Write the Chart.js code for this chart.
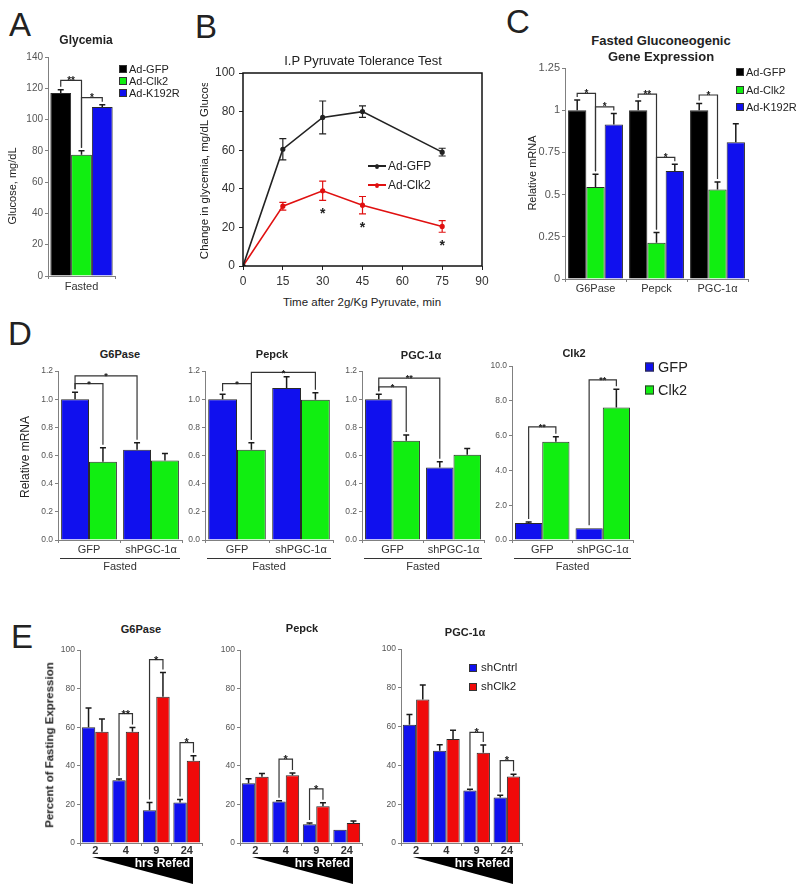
<!DOCTYPE html>
<html>
<head>
<meta charset="utf-8">
<script src="https://cdn.jsdelivr.net/npm/chart.js@4.4.1/dist/chart.umd.min.js"></script>
<style>
  body { margin: 0; background: #fff; }
  #fig { position: relative; width: 800px; height: 893px; overflow: hidden;
         font-family: "Liberation Sans", Arial, sans-serif; color: #222; }
  #fig canvas { position: absolute; }
  .t { position: absolute; white-space: nowrap; line-height: 1; transform: translate(-50%, -50%); }
  .l { position: absolute; white-space: nowrap; line-height: 1; transform: translateY(-50%); }
  .r { transform: translate(-50%, -50%) rotate(-90deg); }
  .b { font-weight: bold; }
  .clip { position: absolute; overflow: hidden; }
  .sq { position: absolute; width: 8px; height: 8px; border: 1px solid #333; box-sizing: border-box; transform: translateY(-50%); }
  .ln { position: absolute; width: 18px; height: 2px; transform: translateY(-50%); }
  .ln::after { content: ""; position: absolute; left: 7px; top: -1.5px; width: 4px; height: 5px; border-radius: 50%; background: inherit; }
</style>
</head>
<body>
<div id="fig">
  <canvas id="chartA"></canvas>
  <canvas id="chartB"></canvas>
  <canvas id="chartC"></canvas>
  <canvas id="chartD1"></canvas>
  <canvas id="chartD2"></canvas>
  <canvas id="chartD3"></canvas>
  <canvas id="chartD4"></canvas>
  <canvas id="chartE1"></canvas>
  <canvas id="chartE2"></canvas>
  <canvas id="chartE3"></canvas>

  <!-- panel letters -->
  <div class="t" style="left:20px;top:24px;font-size:33px">A</div>
  <div class="t" style="left:206px;top:26px;font-size:33px">B</div>
  <div class="t" style="left:518px;top:21px;font-size:33px">C</div>
  <div class="t" style="left:20px;top:333px;font-size:33px">D</div>
  <div class="t" style="left:22px;top:636px;font-size:33px">E</div>

  <!-- A -->
  <div class="t b" style="left:86px;top:40px;font-size:12px">Glycemia</div>
  <div class="t r" style="left:12px;top:186px;font-size:11px">Glucose, mg/dL</div>
  <div class="sq" style="left:119px;top:69px;background:#000"></div>
  <div class="l" style="left:129px;top:69px;font-size:11px">Ad-GFP</div>
  <div class="sq" style="left:119px;top:81px;background:#11ee11"></div>
  <div class="l" style="left:129px;top:81px;font-size:11px">Ad-Clk2</div>
  <div class="sq" style="left:119px;top:93px;background:#1010ee"></div>
  <div class="l" style="left:129px;top:93px;font-size:11px">Ad-K192R</div>

  <!-- B -->
  <div class="t" style="left:363px;top:60px;font-size:13px">I.P Pyruvate Tolerance Test</div>
  <div class="clip" style="left:190px;top:83px;width:30px;height:185px">
    <div class="t r" style="left:15px;top:84px;font-size:11.5px">Change in glycemia, mg/dL Glucose</div>
  </div>
  <div class="t" style="left:362px;top:303px;font-size:11.5px">Time after 2g/Kg Pyruvate, min</div>
  <div class="ln" style="left:368px;top:166px;background:#222"></div>
  <div class="l" style="left:388px;top:166px;font-size:12px">Ad-GFP</div>
  <div class="ln" style="left:368px;top:185px;background:#e01010"></div>
  <div class="l" style="left:388px;top:185px;font-size:12px">Ad-Clk2</div>

  <!-- C -->
  <div class="t b" style="left:661px;top:40px;font-size:13px">Fasted Gluconeogenic</div>
  <div class="t b" style="left:661px;top:56px;font-size:13px">Gene Expression</div>
  <div class="t r" style="left:532px;top:173px;font-size:11px">Relative mRNA</div>
  <div class="sq" style="left:736px;top:72px;background:#000"></div>
  <div class="l" style="left:746px;top:72px;font-size:11px">Ad-GFP</div>
  <div class="sq" style="left:736px;top:90px;background:#11ee11"></div>
  <div class="l" style="left:746px;top:90px;font-size:11px">Ad-Clk2</div>
  <div class="sq" style="left:736px;top:107px;background:#1010ee"></div>
  <div class="l" style="left:746px;top:107px;font-size:11px">Ad-K192R</div>

  <!-- D -->
  <div class="t b" style="left:120px;top:354px;font-size:11px">G6Pase</div>
  <div class="t b" style="left:272px;top:354px;font-size:11px">Pepck</div>
  <div class="t b" style="left:421px;top:355px;font-size:11px">PGC-1α</div>
  <div class="t b" style="left:574px;top:353px;font-size:11px">Clk2</div>
  <div class="t r" style="left:25px;top:457px;font-size:12px">Relative mRNA</div>
  <div class="sq" style="left:645px;top:367px;width:9px;height:9px;background:#1010ee"></div>
  <div class="l" style="left:658px;top:367px;font-size:14.5px">GFP</div>
  <div class="sq" style="left:645px;top:390px;width:9px;height:9px;background:#11ee11"></div>
  <div class="l" style="left:658px;top:390px;font-size:14.5px">Clk2</div>

  <!-- E -->
  <div class="t b" style="left:141px;top:629px;font-size:11px">G6Pase</div>
  <div class="t b" style="left:302px;top:628px;font-size:11px">Pepck</div>
  <div class="t b" style="left:465px;top:632px;font-size:11px">PGC-1α</div>
  <div class="t r b" style="left:50px;top:745px;font-size:11.5px">Percent of Fasting Expression</div>
  <div class="sq" style="left:469px;top:668px;background:#1010ee"></div>
  <div class="l" style="left:481px;top:668px;font-size:11.5px">shCntrl</div>
  <div class="sq" style="left:469px;top:687px;background:#f00a0a"></div>
  <div class="l" style="left:481px;top:687px;font-size:11.5px">shClk2</div>
</div>

<script>
// colours
const black = '#000000';
const green = '#11ee11';
const blue = '#1010ee';
const red = '#f00a0a';

// A - glycemia
const aGroups = ['Ad-GFP', 'Ad-Clk2', 'Ad-K192R'];
const aGlucose = [117, 77.5, 108];
const aGlucoseErr = [2, 2.5, 1.5];
const aTicks = [0, 20, 40, 60, 80, 100, 120, 140];
const aBrackets = [
    { a: [0, 0], b: [1, 0], y: 125, text: '**' },
    { a: [1, 0], b: [2, 0], y: 114, text: '*' }
];

// B - pyruvate tolerance test
const bTimes = [0, 15, 30, 45, 75];
const bGfp = [0, 60.5, 77, 80, 59];
const bGfpErr = [0, 5.5, 8.5, 3, 2];
const bClk2 = [0, 31, 39, 31.5, 20.5];
const bClk2Err = [0, 2, 5, 4.5, 3];
const bXTicks = [0, 15, 30, 45, 60, 75, 90];
const bYTicks = [0, 20, 40, 60, 80, 100];
const bStarTimes = [30, 45, 75];
const bStarLevels = [29, 22, 12.5];

// C - fasted gluconeogenic gene expression
const cGenes = ['G6Pase', 'Pepck', 'PGC-1α'];
const cGfp = [1, 1, 1];
const cGfpErr = [0.06, 0.055, 0.04];
const cClk2 = [0.545, 0.215, 0.53];
const cClk2Err = [0.075, 0.06, 0.045];
const cK192R = [0.915, 0.64, 0.81];
const cK192RErr = [0.065, 0.04, 0.11];
const cTicks = [0, 0.25, 0.5, 0.75, 1, 1.25];
const cBrackets = [
    { a: [0, 0], b: [1, 0], y: 1.10, text: '*' },
    { a: [1, 0], b: [2, 0], y: 1.02, text: '*' },
    { a: [0, 1], b: [1, 1], y: 1.095, text: '**' },
    { a: [1, 1], b: [2, 1], y: 0.72, text: '*' },
    { a: [0, 2], b: [1, 2], y: 1.09, text: '*' }
];

// D - shPGC-1a knockdown
const dGroups = ['GFP', 'shPGC-1α'];
const dTicks = [0, 0.2, 0.4, 0.6, 0.8, 1.0, 1.2];
const dClk2Ticks = [0, 2, 4, 6, 8, 10];
const dG6paseGfp = [1.0, 0.64];
const dG6paseGfpErr = [0.05, 0.05];
const dG6paseClk2 = [0.555, 0.565];
const dG6paseClk2Err = [0.1, 0.05];
const dPepckGfp = [1.0, 1.08];
const dPepckGfpErr = [0.035, 0.08];
const dPepckClk2 = [0.64, 0.995];
const dPepckClk2Err = [0.05, 0.05];
const dPgcGfp = [1.0, 0.515];
const dPgcGfpErr = [0.035, 0.04];
const dPgcClk2 = [0.705, 0.605];
const dPgcClk2Err = [0.04, 0.045];
const dClk2Gfp = [0.97, 0.67];
const dClk2GfpErr = [0.07, 0];
const dClk2Clk2 = [5.65, 7.62];
const dClk2Clk2Err = [0.28, 1.05];
const dG6paseBrackets = [
    { a: [0, 0], b: [1, 0], y: 1.11, text: '*' },
    { a: [0, 0], b: [0, 1], y: 1.165, text: '*' }
];
const dPepckBrackets = [
    { a: [0, 0], b: [1, 0], y: 1.11, text: '*' },
    { a: [1, 0], b: [1, 1], y: 1.19, text: '*' }
];
const dPgcBrackets = [
    { a: [0, 0], b: [1, 0], y: 1.087, text: '*' },
    { a: [0, 0], b: [0, 1], y: 1.15, text: '**' }
];
const dClk2Brackets = [
    { a: [0, 0], b: [1, 0], y: 6.5, text: '**' },
    { a: [0, 1], b: [1, 1], y: 9.2, text: '**' }
];

// E - refeeding time course
const eHours = ['2', '4', '9', '24'];
const eTicks = [0, 20, 40, 60, 80, 100];
const eG6paseCntrl = [60, 32.5, 17, 21];
const eG6paseCntrlErr = [10, 0.6, 4, 1.6];
const eG6paseClk2 = [57.6, 57.6, 75.8, 42.6];
const eG6paseClk2Err = [6.6, 2.3, 12.6, 2.6];
const ePepckCntrl = [31, 21.5, 9.7, 6.9];
const ePepckCntrlErr = [2.3, 0.4, 0.7, 0];
const ePepckClk2 = [34.3, 35.1, 19, 10.4];
const ePepckClk2Err = [1.7, 1.2, 1.8, 1];
const ePgcCntrl = [61, 47.5, 27, 23.5];
const ePgcCntrlErr = [5.2, 3.1, 0.7, 1.1];
const ePgcClk2 = [74, 53.6, 46.5, 34.3];
const ePgcClk2Err = [7.5, 4.5, 4, 1.2];
const eG6paseBrackets = [
    { a: [0, 1], b: [1, 1], y: 67, text: '**' },
    { a: [0, 2], b: [1, 2], y: 95, text: '*' },
    { a: [0, 3], b: [1, 3], y: 52, text: '*' }
];
const ePepckBrackets = [
    { a: [0, 1], b: [1, 1], y: 43.5, text: '*' },
    { a: [0, 2], b: [1, 2], y: 28, text: '*' }
];
const ePgcBrackets = [
    { a: [0, 2], b: [1, 2], y: 57, text: '*' },
    { a: [0, 3], b: [1, 3], y: 42.5, text: '*' }
];

const FONT = '"Liberation Sans", Arial, sans-serif';
Chart.defaults.font.family = FONT;
Chart.defaults.animation = false;

// error bars: up only for bars, both ways for lines
const errorBars = {
    id: 'errorBars',
    afterDatasetsDraw(chart) {
        const ctx = chart.ctx;
        const ys = chart.scales.y;
        const both = chart.config.type === 'line';
        chart.data.datasets.forEach((ds, i) => {
            if (!ds.errors) return;
            const meta = chart.getDatasetMeta(i);
            ctx.save();
            ctx.strokeStyle = ds.errorColor || '#1a1a1a';
            ctx.lineWidth = ds.errorWidth || 1.5;
            meta.data.forEach((el, j) => {
                const err = ds.errors[j];
                if (!err) return;
                const raw = ds.data[j];
                const v = typeof raw === 'object' ? raw.y : raw;
                const top = ys.getPixelForValue(v + err);
                const bot = both ? ys.getPixelForValue(v - err) : el.y;
                const cap = ds.errorCap || 3;
                ctx.beginPath();
                ctx.moveTo(el.x, bot);
                ctx.lineTo(el.x, top);
                ctx.moveTo(el.x - cap, top);
                ctx.lineTo(el.x + cap, top);
                if (both) {
                    ctx.moveTo(el.x - cap, bot);
                    ctx.lineTo(el.x + cap, bot);
                }
                ctx.stroke();
            });
            ctx.restore();
        });
    }
};

// significance brackets between two bars
const brackets = {
    id: 'brackets',
    afterDatasetsDraw(chart, args, opts) {
        const items = opts.items || [];
        if (!items.length) return;
        const ctx = chart.ctx;
        const ys = chart.scales.y;
        const foot = ([d, i]) => {
            const ds = chart.data.datasets[d];
            const el = chart.getDatasetMeta(d).data[i];
            const top = ds.data[i] + (ds.errors ? ds.errors[i] : 0);
            return { x: el.x, y: ys.getPixelForValue(top) - 3 };
        };
        const size = opts.size || 10;
        ctx.save();
        ctx.strokeStyle = '#333';
        ctx.lineWidth = 1.2;
        ctx.fillStyle = '#222';
        ctx.font = 'bold ' + size + 'px ' + FONT;
        ctx.textAlign = 'center';
        ctx.textBaseline = 'alphabetic';
        items.forEach(b => {
            const p = foot(b.a);
            const q = foot(b.b);
            const top = ys.getPixelForValue(b.y);
            ctx.beginPath();
            ctx.moveTo(p.x, p.y);
            ctx.lineTo(p.x, top);
            ctx.lineTo(q.x, top);
            ctx.lineTo(q.x, q.y);
            ctx.stroke();
            ctx.fillText(b.text, (p.x + q.x) / 2, top + size * 0.35);
        });
        ctx.restore();
    }
};

Chart.register(errorBars, brackets);

function place(id, area, pad) {
    const cv = document.getElementById(id);
    cv.width = area.r - area.l + pad.l + pad.r;
    cv.height = area.b - area.t + pad.t + pad.b;
    cv.style.left = (area.l - pad.l) + 'px';
    cv.style.top = (area.t - pad.t) + 'px';
    return cv;
}

function yAxis(ticks, pad, size, fmt) {
    return {
        min: ticks[0],
        max: ticks[ticks.length - 1],
        afterBuildTicks: s => { s.ticks = ticks.map(v => ({ value: v })); },
        afterFit: s => { s.width = pad.l; },
        border: { color: '#808080', width: 1 },
        grid: { drawOnChartArea: false, tickLength: 3, color: '#808080' },
        ticks: { font: { size: size }, color: '#555', padding: 2, callback: fmt || (v => String(v)) }
    };
}

function xAxis(pad, font, padding) {
    return {
        afterFit: s => { s.height = pad.b; },
        border: { color: '#808080', width: 1 },
        grid: { drawOnChartArea: false, tickLength: 3, color: '#808080' },
        ticks: { font: font, color: '#333', padding: padding, autoSkip: false, maxRotation: 0 }
    };
}

function bars(label, data, errors, color, catPct) {
    return {
        label: label,
        data: data,
        errors: errors,
        backgroundColor: color,
        borderColor: '#2a2a2a',
        borderWidth: 1,
        categoryPercentage: catPct,
        barPercentage: 1
    };
}

function barChart(id, area, pad, labels, datasets, yOpts, xFont, xPad, bracketItems, bracketSize, extra) {
    place(id, area, pad);
    return new Chart(document.getElementById(id), {
        type: 'bar',
        data: { labels: labels, datasets: datasets },
        options: {
            responsive: false,
            devicePixelRatio: 1,
            layout: { padding: { top: pad.t, right: pad.r, left: 0, bottom: 0 } },
            scales: { x: xAxis(pad, xFont, xPad), y: yOpts },
            plugins: {
                legend: { display: false },
                tooltip: { enabled: false },
                brackets: { items: bracketItems, size: bracketSize }
            }
        },
        plugins: extra ? [extra] : []
    });
}

// "Fasted" underline under D panels
const fastedLabel = {
    id: 'fastedLabel',
    afterDraw(chart) {
        const { ctx, chartArea: a } = chart;
        ctx.save();
        ctx.strokeStyle = '#333';
        ctx.lineWidth = 1;
        ctx.beginPath();
        ctx.moveTo(a.left + 2, a.bottom + 18.5);
        ctx.lineTo(a.right - 2, a.bottom + 18.5);
        ctx.stroke();
        ctx.fillStyle = '#333';
        ctx.font = '11px ' + FONT;
        ctx.textAlign = 'center';
        ctx.textBaseline = 'middle';
        ctx.fillText('Fasted', (a.left + a.right) / 2, a.bottom + 27);
        ctx.restore();
    }
};

// black wedge with "hrs Refed" under E panels
const refedWedge = {
    id: 'refedWedge',
    afterDraw(chart) {
        const { ctx, chartArea: a } = chart;
        ctx.save();
        ctx.fillStyle = '#000';
        ctx.beginPath();
        ctx.moveTo(a.left + 12, a.bottom + 14);
        ctx.lineTo(a.right - 9, a.bottom + 14);
        ctx.lineTo(a.right - 9, a.bottom + 41);
        ctx.closePath();
        ctx.fill();
        ctx.fillStyle = '#fff';
        ctx.font = 'bold 12px ' + FONT;
        ctx.textAlign = 'right';
        ctx.textBaseline = 'middle';
        ctx.fillText('hrs Refed', a.right - 12, a.bottom + 21);
        ctx.restore();
    }
};

// ---- A ----
const aColors = [black, green, blue];
barChart('chartA', { l: 48, t: 57, r: 115, b: 276 }, { l: 40, t: 12, r: 4, b: 20 },
    ['Fasted'],
    aGroups.map((g, k) => bars(g, [aGlucose[k]], [aGlucoseErr[k]], aColors[k], 0.93)),
    yAxis(aTicks, { l: 40 }, 10),
    { size: 11 }, 1, aBrackets, 10);

// ---- B ----
const frame = {
    id: 'frame',
    afterDraw(chart) {
        const { ctx, chartArea: a } = chart;
        ctx.save();
        ctx.strokeStyle = '#111';
        ctx.lineWidth = 1.5;
        ctx.strokeRect(a.left, a.top, a.right - a.left, a.bottom - a.top);
        ctx.restore();
    }
};
const starMarks = {
    id: 'starMarks',
    afterDraw(chart) {
        const { ctx, scales } = chart;
        ctx.save();
        ctx.fillStyle = '#222';
        ctx.font = 'bold 14px ' + FONT;
        ctx.textAlign = 'center';
        ctx.textBaseline = 'alphabetic';
        bStarTimes.forEach((t, k) => {
            ctx.fillText('*', scales.x.getPixelForValue(t), scales.y.getPixelForValue(bStarLevels[k]) + 8);
        });
        ctx.restore();
    }
};
const bPad = { l: 40, t: 12, r: 14, b: 28 };
place('chartB', { l: 243, t: 73, r: 482, b: 266 }, bPad);
new Chart(document.getElementById('chartB'), {
    type: 'line',
    data: {
        datasets: [
            {
                label: 'Ad-GFP',
                data: bTimes.map((t, k) => ({ x: t, y: bGfp[k] })),
                errors: bGfpErr, errorColor: '#222', errorWidth: 1.2, errorCap: 3.5,
                borderColor: '#222', backgroundColor: '#222',
                borderWidth: 1.6, pointRadius: 1.8, tension: 0
            },
            {
                label: 'Ad-Clk2',
                data: bTimes.map((t, k) => ({ x: t, y: bClk2[k] })),
                errors: bClk2Err, errorColor: '#e01010', errorWidth: 1.2, errorCap: 3.5,
                borderColor: '#e01010', backgroundColor: '#e01010',
                borderWidth: 1.6, pointRadius: 1.8, tension: 0
            }
        ]
    },
    options: {
        responsive: false,
        devicePixelRatio: 1,
        layout: { padding: { top: bPad.t, right: bPad.r, left: 0, bottom: 0 } },
        scales: {
            x: {
                type: 'linear', min: 0, max: 90,
                afterBuildTicks: s => { s.ticks = bXTicks.map(v => ({ value: v })); },
                afterFit: s => { s.height = bPad.b; },
                border: { display: false },
                grid: { drawOnChartArea: false, tickLength: 4, color: '#222' },
                ticks: { font: { size: 12 }, color: '#333', padding: 4 }
            },
            y: {
                min: 0, max: 100,
                afterBuildTicks: s => { s.ticks = bYTicks.map(v => ({ value: v })); },
                afterFit: s => { s.width = bPad.l; },
                border: { display: false },
                grid: { drawOnChartArea: false, tickLength: 4, color: '#222' },
                ticks: { font: { size: 12 }, color: '#333', padding: 4 }
            }
        },
        plugins: { legend: { display: false }, tooltip: { enabled: false } }
    },
    plugins: [frame, starMarks]
});

// ---- C ----
barChart('chartC', { l: 565, t: 68, r: 748, b: 279 }, { l: 40, t: 12, r: 4, b: 20 },
    cGenes,
    [
        bars('Ad-GFP', cGfp, cGfpErr, black, 0.9),
        bars('Ad-Clk2', cClk2, cClk2Err, green, 0.9),
        bars('Ad-K192R', cK192R, cK192RErr, blue, 0.9)
    ],
    yAxis(cTicks, { l: 40 }, 11),
    { size: 11 }, 0, cBrackets, 10);

// ---- D ----
const dPad = { l: 40, t: 10, r: 4, b: 36 };
const fmt1 = v => v.toFixed(1);
barChart('chartD1', { l: 58, t: 371, r: 182, b: 540 }, dPad, dGroups,
    [bars('GFP', dG6paseGfp, dG6paseGfpErr, blue, 0.9), bars('Clk2', dG6paseClk2, dG6paseClk2Err, green, 0.9)],
    yAxis(dTicks, dPad, 8.5, fmt1), { size: 11 }, 0, dG6paseBrackets, 9, fastedLabel);
barChart('chartD2', { l: 205, t: 371, r: 333, b: 540 }, dPad, dGroups,
    [bars('GFP', dPepckGfp, dPepckGfpErr, blue, 0.9), bars('Clk2', dPepckClk2, dPepckClk2Err, green, 0.9)],
    yAxis(dTicks, dPad, 8.5, fmt1), { size: 11 }, 0, dPepckBrackets, 9, fastedLabel);
barChart('chartD3', { l: 362, t: 371, r: 484, b: 540 }, dPad, dGroups,
    [bars('GFP', dPgcGfp, dPgcGfpErr, blue, 0.9), bars('Clk2', dPgcClk2, dPgcClk2Err, green, 0.9)],
    yAxis(dTicks, dPad, 8.5, fmt1), { size: 11 }, 0, dPgcBrackets, 9, fastedLabel);
barChart('chartD4', { l: 512, t: 366, r: 633, b: 540 }, dPad, dGroups,
    [bars('GFP', dClk2Gfp, dClk2GfpErr, blue, 0.9), bars('Clk2', dClk2Clk2, dClk2Clk2Err, green, 0.9)],
    yAxis(dClk2Ticks, dPad, 8.5, fmt1), { size: 11 }, 0, dClk2Brackets, 9, fastedLabel);

// ---- E ----
const ePad = { l: 40, t: 10, r: 6, b: 46 };
barChart('chartE1', { l: 80, t: 650, r: 202, b: 843 }, ePad, eHours,
    [bars('shCntrl', eG6paseCntrl, eG6paseCntrlErr, blue, 0.88), bars('shClk2', eG6paseClk2, eG6paseClk2Err, red, 0.88)],
    yAxis(eTicks, ePad, 8.5), { size: 11, weight: 'bold' }, -2, eG6paseBrackets, 11, refedWedge);
barChart('chartE2', { l: 240, t: 650, r: 362, b: 843 }, ePad, eHours,
    [bars('shCntrl', ePepckCntrl, ePepckCntrlErr, blue, 0.88), bars('shClk2', ePepckClk2, ePepckClk2Err, red, 0.88)],
    yAxis(eTicks, ePad, 8.5), { size: 11, weight: 'bold' }, -2, ePepckBrackets, 11, refedWedge);
barChart('chartE3', { l: 401, t: 649, r: 522, b: 843 }, ePad, eHours,
    [bars('shCntrl', ePgcCntrl, ePgcCntrlErr, blue, 0.88), bars('shClk2', ePgcClk2, ePgcClk2Err, red, 0.88)],
    yAxis(eTicks, ePad, 8.5), { size: 11, weight: 'bold' }, -2, ePgcBrackets, 11, refedWedge);
</script>
</body>
</html>
